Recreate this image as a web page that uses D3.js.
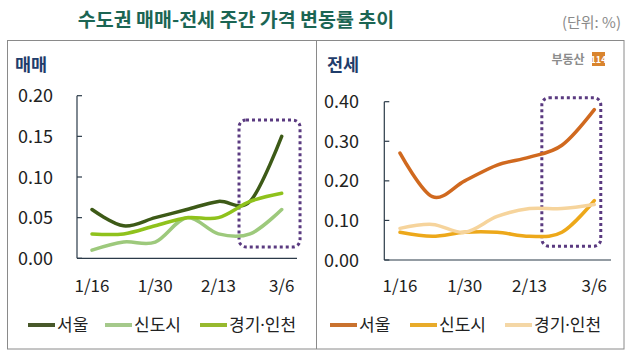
<!DOCTYPE html>
<html><head><meta charset="utf-8">
<script src="https://cdn.jsdelivr.net/npm/d3@7"></script>
<style>
html,body{margin:0;padding:0;background:#fff;}
text{font-family:"Noto Sans CJK KR","Noto Sans",sans-serif;}
</style></head>
<body><svg id="c" width="637" height="360"></svg>
<script>
// ---- data ----
const categories = ["1/16","1/23","1/30","2/6","2/13","2/27","3/6"];
const tickLabels = ["1/16","1/30","2/13","3/6"];
const seriesNames = ["서울","신도시","경기·인천"];
const saleSeoul   = [0.06,0.04,0.05,0.06,0.07,0.07,0.15];
const saleNewTown = [0.01,0.02,0.02,0.05,0.03,0.03,0.06];
const saleGyeonggi= [0.03,0.03,0.04,0.05,0.05,0.07,0.08];
const rentSeoul   = [0.27,0.16,0.20,0.24,0.26,0.29,0.38];
const rentNewTown = [0.07,0.06,0.07,0.07,0.06,0.07,0.15];
const rentGyeonggi= [0.08,0.09,0.07,0.11,0.13,0.13,0.14];
const saleTicks = [0,0.05,0.10,0.15,0.20];
const rentTicks = [0,0.10,0.20,0.30,0.40];

const svg = d3.select("#c");

// title
svg.append("text").attr("x",236).attr("y",27).attr("text-anchor","middle")
  .attr("font-size",19.5).attr("font-weight","bold").attr("fill","#1b6553")
  .text("수도권 매매-전세 주간 가격 변동률 추이");
svg.append("text").attr("x",621).attr("y",28).attr("text-anchor","end")
  .attr("font-size",15).attr("fill","#8a8a8a").text("(단위: %)");

// outer box
svg.append("rect").attr("x",7.5).attr("y",40.5).attr("width",616.5).attr("height",308.5)
  .attr("fill","none").attr("stroke","#8a8a8a").attr("stroke-width",1);
svg.append("line").attr("x1",316.5).attr("x2",316.5).attr("y1",40.5).attr("y2",349)
  .attr("stroke","#8a8a8a");

function labelText(sel, name){
  const parts = name.split("·");
  parts.forEach((p,i)=>{
    if(i>0) sel.append("tspan").style("font-family","'Noto Sans',sans-serif").text("·");
    sel.append("tspan").text(p);
  });
}

function panel(cfg){
  const g = svg.append("g");
  const x = d3.scalePoint().domain(categories).range([cfg.x0,cfg.x1]);
  const xi = d3.scaleLinear().domain([0,categories.length-1]).range([cfg.x0,cfg.x1]);
  const y = d3.scaleLinear().domain([0,cfg.max]).range([cfg.yb,cfg.yt]);
  // panel title
  g.append("text").attr("x",cfg.tx).attr("y",71).attr("font-size",17.5).attr("font-weight","bold")
    .attr("fill","#1f3d6b").text(cfg.title);
  // y axis
  g.append("line").attr("x1",cfg.ax).attr("x2",cfg.ax).attr("y1",y(cfg.max)).attr("y2",y(0))
    .attr("stroke","#2b3a48").attr("stroke-width",1.2);
  g.selectAll(".yt").data(cfg.ticks).enter().append("line")
    .attr("x1",cfg.ax).attr("x2",cfg.ax+5).attr("y1",d=>y(d)).attr("y2",d=>y(d))
    .attr("stroke","#2b3a48").attr("stroke-width",1.2);
  g.selectAll(".yl").data(cfg.ticks).enter().append("text")
    .attr("x",cfg.lx).attr("y",d=>y(d)+6.5).attr("text-anchor","end")
    .attr("font-size",18).attr("fill","#222").text(d=>d.toFixed(2));
  // x axis
  g.append("line").attr("x1",cfg.ax).attr("x2",cfg.axEnd).attr("y1",y(0)).attr("y2",y(0))
    .attr("stroke","#2b3a48").attr("stroke-width",1.2);
  g.selectAll(".xl").data(tickLabels).enter().append("text")
    .attr("x",d=>x(d)).attr("y",292).attr("text-anchor","middle")
    .attr("font-size",17).attr("fill","#222").text(d=>d);
  // highlight box
  const hb = cfg.hl;
  g.append("rect").attr("x",xi(hb[0])).attr("y",y(hb[3]))
    .attr("width",xi(hb[1])-xi(hb[0])).attr("height",y(hb[2])-y(hb[3]))
    .attr("rx",7).attr("fill","none").attr("stroke","#5a3a80").attr("stroke-width",3)
    .attr("stroke-dasharray","3,3");
  // lines
  const line = d3.line().x((d,i)=>x(categories[i])).y(d=>y(d)).curve(d3.curveCardinal.tension(0));
  cfg.series.forEach((s,k)=>{
    g.append("path").attr("d",line(s)).attr("fill","none").attr("stroke",cfg.colors[k])
      .attr("stroke-width",3.5).attr("stroke-linecap","round");
  });
  // legend
  cfg.legend.forEach((lx,k)=>{
    g.append("line").attr("x1",lx).attr("x2",lx+27).attr("y1",325).attr("y2",325)
      .attr("stroke",cfg.legendColors[k]).attr("stroke-width",4);
    const t = g.append("text").attr("x",lx+29).attr("y",331).attr("font-size",17).attr("fill","#222");
    labelText(t, seriesNames[k]);
  });
}

panel({title:"매매",tx:15,x0:92,x1:281.7,ax:77,axEnd:297,yb:258.3,yt:95.7,max:0.20,lx:53,
  ticks:saleTicks,series:[saleSeoul,saleNewTown,saleGyeonggi],
  colors:["#3d5a17","#9dc97c","#8fc21c"],legendColors:["#48582a","#a5c98b","#97b92e"],
  hl:[4.65,6.58,0.014,0.170],legend:[28,105,200]});
panel({title:"전세",tx:327,x0:400,x1:594.3,ax:384.3,axEnd:611,yb:260,yt:101.7,max:0.40,lx:359,
  ticks:rentTicks,series:[rentSeoul,rentNewTown,rentGyeonggi],
  colors:["#d0691f","#eda81a","#f6d49c"],legendColors:["#c9722e","#e8ab2a","#f4d7a6"],
  hl:[4.38,6.2,0.035,0.41],legend:[330,410,505]});

// logo
svg.append("text").attr("x",568).attr("y",64).attr("text-anchor","middle").attr("font-size",12)
  .attr("font-weight","bold").attr("fill","#8c8c8c").text("부동산");
svg.append("rect").attr("x",592).attr("y",52).attr("width",13).attr("height",14).attr("fill","#d9842e");
svg.append("text").attr("x",598.5).attr("y",63).attr("text-anchor","middle").attr("font-size",9)
  .attr("font-weight","bold").attr("fill","#fff").text("114");
</script></body></html>
